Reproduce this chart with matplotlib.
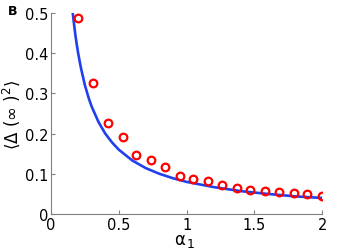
import numpy as np
import matplotlib
matplotlib.use('Agg')
import matplotlib.pyplot as plt

# simulation points
alpha1 = [0.20, 0.31, 0.42, 0.53, 0.63, 0.74, 0.84, 0.95, 1.05, 1.16,
          1.26, 1.37, 1.47, 1.58, 1.68, 1.79, 1.89, 2.00]
msd = [0.487, 0.327, 0.226, 0.191, 0.148, 0.134, 0.118, 0.094, 0.088, 0.081,
       0.071, 0.065, 0.061, 0.057, 0.056, 0.052, 0.049, 0.045]

# theory curve
theory_x = [0.16, 0.17, 0.18, 0.19, 0.20, 0.22, 0.25, 0.28, 0.30, 0.35, 0.40,
            0.45, 0.50, 0.60, 0.70, 0.80, 0.90, 1.00, 1.20, 1.40, 1.60, 1.80, 2.00]
theory_y = [0.500, 0.471, 0.444, 0.421, 0.400, 0.364, 0.320, 0.286, 0.267,
            0.229, 0.200, 0.178, 0.160, 0.133, 0.114, 0.100, 0.089, 0.080,
            0.067, 0.057, 0.050, 0.044, 0.040]

fig = plt.figure(figsize=(3.38, 2.53), dpi=100)
ax = fig.add_axes([0.151, 0.150, 0.802, 0.795])

ax.plot(theory_x, theory_y, color='#2040f0', lw=1.9, zorder=2)
ax.plot(alpha1, msd, 'o', mfc='none', mec='#ff0000', mew=1.6, ms=5.5, zorder=3)

ax.set_xlim(0, 2)
ax.set_ylim(0, 0.5)
ax.set_xticks([0, 0.5, 1, 1.5, 2])
ax.set_xticklabels(['0', '0.5', '1', '1.5', '2'])
ax.set_yticks([0, 0.1, 0.2, 0.3, 0.4, 0.5])
ax.set_yticklabels(['0', '0.1', '0.2', '0.3', '0.4', '0.5'])

for s in ['top', 'right']:
    ax.spines[s].set_visible(False)
for s in ['left', 'bottom']:
    ax.spines[s].set_color('#808080')
    ax.spines[s].set_linewidth(0.8)
ax.tick_params(direction='in', length=3, color='#808080', labelsize=10.5, pad=2)

fig.text(0.548, 0.050, 'α', fontsize=12, ha='right', va='center')
fig.text(0.553, 0.034, '1', fontsize=9, ha='left', va='center')
ax.set_ylabel(r'$\langle\Delta\ (\infty\ )^2\rangle$', fontsize=12, labelpad=2)

fig.text(0.022, 0.955, 'B', fontsize=9, fontweight='bold', va='center')

plt.savefig('out.png', dpi=100)
